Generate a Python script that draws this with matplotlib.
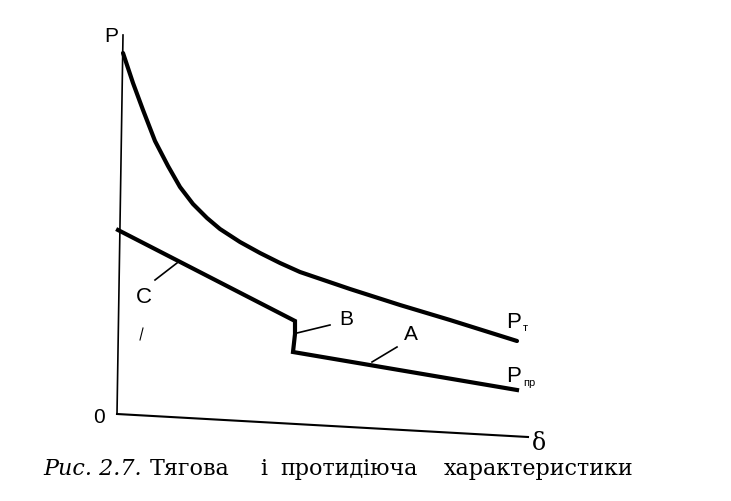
import matplotlib
matplotlib.use("Agg")
import matplotlib.pyplot as plt

# coordinates (pixel units, y grows downward)
pt_x = [123, 133, 143, 155, 168, 180, 193, 207, 220, 240, 260, 280, 300, 350, 400, 450, 517]
pt_y = [53, 83, 110, 141, 166, 187, 204, 218, 229, 242, 253, 263, 272, 289, 305, 320, 341]

ppr_x = [118, 295, 295, 293, 517]
ppr_y = [230, 321, 334, 352, 390]

axis_y_x = [123, 117]
axis_y_y = [35, 414]
axis_x_x = [117, 528]
axis_x_y = [414, 437]

caption_words = ["Тягова", "і", "протидіюча", "характеристики"]
caption_x = [150, 260, 280, 444]

fig = plt.figure(figsize=(7.31, 5.01), dpi=100)
ax = fig.add_axes([0, 0, 1, 1])
ax.set_xlim(0, 731)
ax.set_ylim(501, 0)
ax.axis("off")

ax.plot(axis_y_x, axis_y_y, color="black", lw=1.2)
ax.plot(axis_x_x, axis_x_y, color="black", lw=1.5)
ax.plot(pt_x, pt_y, color="black", lw=3, solid_joinstyle="round", solid_capstyle="round")
ax.plot(ppr_x, ppr_y, color="black", lw=3, solid_joinstyle="miter")

# leader lines for the labels
ax.plot([155, 177], [280, 263], color="black", lw=1.2)
ax.plot([297, 330], [333, 325], color="black", lw=1.2)
ax.plot([372, 397], [362, 347], color="black", lw=1.2)
ax.plot([143, 140], [328, 340], color="black", lw=0.8)

sans = "Liberation Sans"
ax.text(104, 42, "P", fontsize=15, family=sans, va="baseline")
ax.text(93, 423, "0", fontsize=15, family=sans, va="baseline")
ax.text(532, 450, "δ", fontsize=17, family="DejaVu Serif", va="baseline")
ax.text(136, 303, "C", fontsize=16, family=sans, va="baseline")
ax.text(339, 325, "B", fontsize=15, family=sans, va="baseline")
ax.text(404, 340, "A", fontsize=15, family=sans, va="baseline")
ax.text(506, 328, "P", fontsize=16, family=sans, va="baseline")
ax.text(523, 331, "т", fontsize=8, family=sans, va="baseline")
ax.text(506, 382, "P", fontsize=16, family=sans, va="baseline")
ax.text(523, 386, "пр", fontsize=8, family=sans, va="baseline")

ax.text(43, 475, "Рис. 2.7.", fontsize=16, family="DejaVu Serif", style="italic", va="baseline")
for w, x in zip(caption_words, caption_x):
    ax.text(x, 475, w, fontsize=16, family="DejaVu Serif", va="baseline")

fig.savefig("out.png", dpi=100)
